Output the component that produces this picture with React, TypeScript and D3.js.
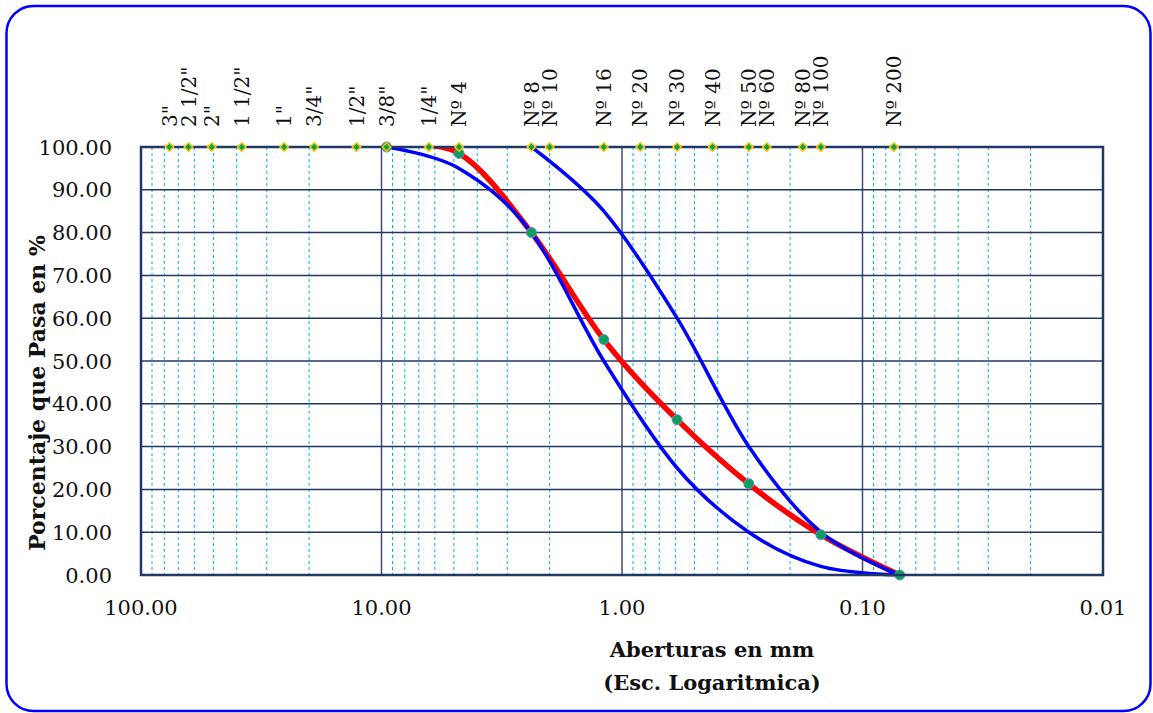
import React from "react"
import * as d3 from "d3"

// tamices (etiquetas de arriba) y sus aberturas en mm
const sieveLabels = ['3"', '2 1/2"', '2"', '1 1/2"', '1"', '3/4"', '1/2"', '3/8"', '1/4"', "Nº 4", "Nº 8", "Nº 10", "Nº 16", "Nº 20", "Nº 30", "Nº 40", "Nº 50", "Nº 60", "Nº 80", "Nº 100", "Nº 200"]
const sieveSizes = [76.2, 63.5, 50.8, 38.1, 25.4, 19.05, 12.7, 9.525, 6.35, 4.76, 2.38, 2.0, 1.19, 0.84, 0.59, 0.42, 0.297, 0.25, 0.177, 0.149, 0.074]

// curva de la muestra (roja)
const sampleSizes = [9.525, 4.76, 2.38, 1.19, 0.59, 0.297, 0.149, 0.07]
const samplePass = [100, 98.5, 80, 55, 36.3, 21.3, 9.4, 0]

// limites (azules)
const upperSizes = [2.38, 1.19, 0.59, 0.297, 0.149, 0.07]
const upperPass = [100, 85, 60, 30, 10, 0]
const lowerSizes = [9.525, 4.76, 2.38, 1.19, 0.59, 0.297, 0.149, 0.07]
const lowerPass = [100, 95, 80, 50, 25, 10, 2, 0]

const yTicks = [0, 10, 20, 30, 40, 50, 60, 70, 80, 90, 100]
const xTicks = [100, 10, 1, 0.1, 0.01]

const W = 1153
const H = 713
const left = 141, right = 1103, top = 147, bottom = 575
const serif = "'DejaVu Serif', serif"

export default function App() {
  const x = d3.scaleLog().domain([100, 0.01]).range([left, right])
  const y = d3.scaleLinear().domain([0, 100]).range([bottom, top])

  // lineas menores 2..9 de cada decada
  const minor: number[] = []
  for (let e = -2; e < 2; e++) {
    for (let k = 2; k <= 9; k++) minor.push(k * Math.pow(10, e))
  }

  const line = d3.line<[number, number]>()
    .x(d => x(d[0]))
    .y(d => y(d[1]))
    .curve(d3.curveCardinal.tension(0))

  const sample = sampleSizes.map((s, i) => [s, samplePass[i]] as [number, number])
  const upper = upperSizes.map((s, i) => [s, upperPass[i]] as [number, number])
  const lower = lowerSizes.map((s, i) => [s, lowerPass[i]] as [number, number])

  const diamond = (cx: number, cy: number, r: number) =>
    `M${cx},${cy - r}L${cx + r},${cy}L${cx},${cy + r}L${cx - r},${cy}Z`

  return (
    <svg width={W} height={H} style={{ position: "absolute", left: 0, top: 0, display: "block" }}>
      <defs>
        <clipPath id="plot">
          <rect x={left - 10} y={top} width={right - left + 20} height={bottom - top + 10} />
        </clipPath>
      </defs>
      <rect x={0} y={0} width={W} height={H} fill="white" />
      <rect x={6.5} y={6} width={1144} height={705} rx={27} fill="white" stroke="#0000FF" strokeWidth={2.5} />

      {/* grilla */}
      {minor.map((v, i) => (
        <line key={"m" + i} x1={x(v)} x2={x(v)} y1={top} y2={bottom} stroke="#00B0F0" strokeWidth={1} strokeDasharray="3,3" />
      ))}
      {xTicks.slice(1, -1).map(v => (
        <line key={"d" + v} x1={x(v)} x2={x(v)} y1={top} y2={bottom} stroke="#3B4E78" strokeWidth={1.5} />
      ))}
      {yTicks.slice(1, -1).map(v => (
        <line key={"h" + v} x1={left} x2={right} y1={y(v)} y2={y(v)} stroke="#1F3864" strokeWidth={1.5} />
      ))}

      {/* curvas */}
      <g clipPath="url(#plot)">
        <path d={line(sample) || ""} fill="none" stroke="#FF0000" strokeWidth={5.5} strokeLinejoin="round" />
        <path d={line(lower) || ""} fill="none" stroke="#0000FF" strokeWidth={3.5} />
        <path d={line(upper) || ""} fill="none" stroke="#0000FF" strokeWidth={3.5} />
      </g>

      {sample.map((d, i) => (
        <circle key={"p" + i} cx={x(d[0])} cy={y(d[1])} r={5} fill="#0E9E5E" stroke="#6C8EBF" strokeWidth={1} />
      ))}

      <rect x={left} y={top} width={right - left} height={bottom - top} fill="none" stroke="#1F3864" strokeWidth={2.5} />

      {/* marcadores de tamices */}
      {sieveSizes.map((s, i) => (
        <path key={"s" + i} d={diamond(x(s), top, 4.2)} fill="#00A550" stroke="#FFC000" strokeWidth={1.6} />
      ))}
      {sieveSizes.map((s, i) => (
        <text key={"t" + i} x={x(s)} y={127} dy="0.36em" transform={`rotate(-90, ${x(s)}, 127)`}
          fontFamily={serif} fontSize={20} fill="#111">{sieveLabels[i]}</text>
      ))}

      {/* ejes */}
      {yTicks.map(v => (
        <text key={"y" + v} x={112} y={y(v)} dy="0.36em" textAnchor="end" fontFamily={serif} fontSize={21} fill="#111">
          {v.toFixed(2)}
        </text>
      ))}
      {xTicks.map(v => (
        <text key={"x" + v} x={x(v)} y={615} textAnchor="middle" fontFamily={serif} fontSize={21} fill="#111">
          {v.toFixed(2)}
        </text>
      ))}

      <text x={712} y={657} textAnchor="middle" fontFamily={serif} fontWeight="bold" fontSize={21} fill="#111">Aberturas en mm</text>
      <text x={712} y={690} textAnchor="middle" fontFamily={serif} fontWeight="bold" fontSize={21} fill="#111">(Esc. Logaritmica)</text>
      <text transform="translate(37, 393) rotate(-90)" dy="0.36em" textAnchor="middle" fontFamily={serif} fontWeight="bold" fontSize={22} fill="#111">
        Porcentaje que Pasa en %
      </text>
    </svg>
  )
}
